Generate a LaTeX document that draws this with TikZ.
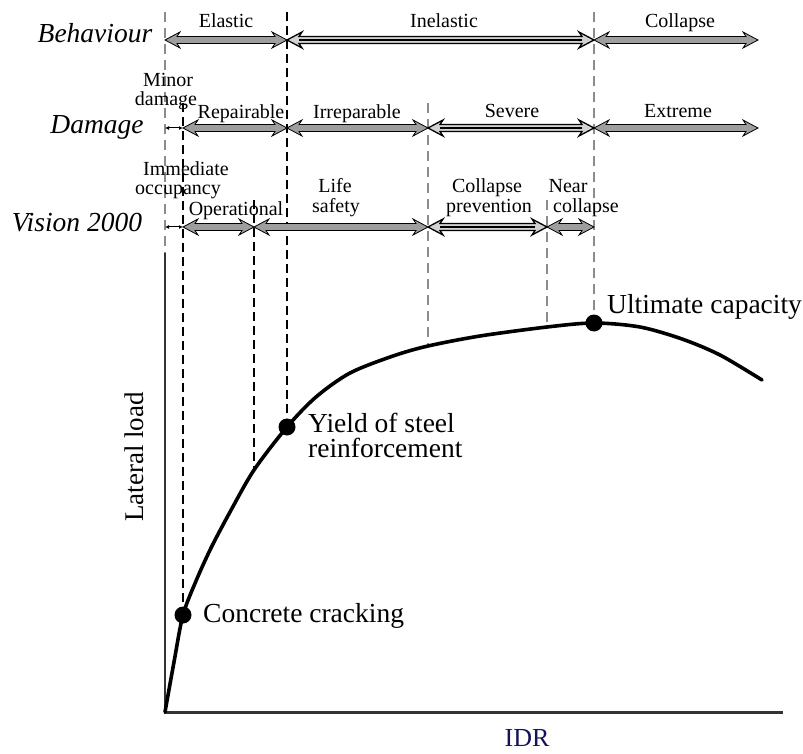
\documentclass[tikz,border=0pt]{standalone}
\usepackage{fontspec}
\setmainfont{Liberation Serif}
\usetikzlibrary{arrows.meta}

\definecolor{shaftgray}{gray}{0.62}
\definecolor{guidegray}{gray}{0.55}
\definecolor{axisgray}{gray}{0.2}
\definecolor{idrblue}{RGB}{20,20,90}

% Double-headed block arrow spanning x1..x2 at height y
\newcommand\spanarrow[4]{%
  \filldraw[#1] (#2,#4) -- (#2+15,#4-8) -- (#2+12,#4-3.5) -- (#3-12,#4-3.5)
    -- (#3-15,#4-8) -- (#3,#4) -- (#3-15,#4+8) -- (#3-12,#4+3.5)
    -- (#2+12,#4+3.5) -- (#2+15,#4+8) -- cycle;}
% Darker variant with a ruled shaft
\newcommand\spanarrowdark[3]{%
  \spanarrow{darkarrow}{#1}{#2}{#3}%
  \draw[line width=1.3pt] (#1+12,#3) -- (#2-12,#3);}

\tikzset{
  lightarrow/.style={fill=shaftgray, draw=black, line width=0.8pt, line join=miter},
  darkarrow/.style={fill=gray!35, draw=black, line width=1.3pt, line join=miter},
  tinyarrow/.style={{Latex[length=4pt,width=4pt]}-{Latex[length=4pt,width=4pt]}, line width=1pt},
  blackguide/.style={draw=black, line width=1.3pt, dash pattern=on 9pt off 5pt},
  grayguide/.style={draw=guidegray, line width=1.5pt, dash pattern=on 10pt off 6pt},
  rowlabel/.style={font=\fontsize{27.5}{30}\selectfont\itshape, anchor=base, inner sep=0pt},
  small/.style={font=\fontsize{20}{20}\selectfont, anchor=base, inner sep=0pt},
  big/.style={font=\fontsize{27.5}{30}\selectfont, anchor=base west, inner sep=0pt},
  dot/.style={circle, fill=black, minimum size=17pt, inner sep=0pt},
  axis/.style={draw=axisgray, line width=2.5pt},
  curve/.style={draw=black, line width=3.6pt, line join=round, line cap=round}
}

\begin{document}
\begin{tikzpicture}[x=1pt, y=-1pt]
\useasboundingbox (0,0) rectangle (803,754);

% guide lines
\draw[grayguide] (165,12) -- (165,253);
\draw[blackguide] (183,103) -- (183,604);
\draw[blackguide] (287,12) -- (287,418);
\draw[blackguide] (254,200) -- (254,470);
\draw[grayguide] (428,103) -- (428,346);
\draw[grayguide] (594,12) -- (594,315);
\draw[grayguide] (547,200) -- (547,327);

% axes
\coordinate (top) at (165,253);
\coordinate (origin) at (165,712.5);
\coordinate (xend) at (783,712.5);
\draw[axis] (top) -- (origin) -- (xend);

% capacity curve
\draw[curve] plot[smooth, tension=0.5] coordinates {
  (165,712) (174,662) (183,615) (196,581) (211,548) (230,512) (254,470)
  (287,427) (316,397) (350,373) (393,356) (428,346) (480,336) (547,327)
  (594,323) (640,327) (682,339) (720,355) (762,380)};

\node[dot] (crack) at (183,615) {};
\node[dot] (yield) at (287,427) {};
\node[dot] (ult) at (594,323) {};

\node[big] (lcrack) at (203,622) {Concrete cracking};
\node[big] (lyield1) at (308,432) {Yield of steel};
\node[big] (lyield2) at (308,457) {reinforcement};
\node[big] (lult) at (607,313) {Ultimate capacity};

\node[font=\fontsize{27}{30}\selectfont, rotate=90, anchor=base, inner sep=0pt] (ylab) at (143,457) {Lateral load};
\node[font=\fontsize{26}{30}\selectfont, text=idrblue, anchor=base, inner sep=0pt] (xlab) at (527,746) {IDR};

% row labels
\node[rowlabel] (rbeh) at (95,43) {Behaviour};
\node[rowlabel] (rdam) at (97,134) {Damage};
\node[rowlabel] (rvis) at (77,232) {Vision 2000};

% Behaviour row
\spanarrow{lightarrow}{165}{287}{40}
\spanarrowdark{287}{594}{40}
\spanarrow{lightarrow}{594}{758}{40}
\node[small] (elastic) at (226,28) {Elastic};
\node[small] (inelastic) at (444,28) {Inelastic};
\node[small] (collapse) at (680,28) {Collapse};

% Damage row
\coordinate (d0) at (165,128);
\coordinate (d1) at (183,128);
\draw[tinyarrow] (d0) -- (d1);
\spanarrow{lightarrow}{183}{287}{128}
\spanarrow{lightarrow}{287}{428}{128}
\spanarrowdark{428}{594}{128}
\spanarrow{lightarrow}{594}{758}{128}
\node[small] (minor1) at (168,87) {Minor};
\node[small] (minor2) at (166,106) {damage};
\node[small] (repair) at (241,119) {Repairable};
\node[small] (irrep) at (357,119) {Irreparable};
\node[small] (severe) at (512,118) {Severe};
\node[small] (extreme) at (678,118) {Extreme};

% Vision 2000 row
\coordinate (v0) at (165,227);
\coordinate (v1) at (183,227);
\draw[tinyarrow] (v0) -- (v1);
\spanarrow{lightarrow}{183}{254}{227}
\spanarrow{lightarrow}{254}{428}{227}
\spanarrowdark{428}{547}{227}
\spanarrow{lightarrow}{547}{594}{227}
\node[small] (imm1) at (186,176) {Immediate};
\node[small] (imm2) at (178,195) {occupancy};
\node[small] (oper) at (236,215) {Operational};
\node[small] (life1) at (335,193) {Life};
\node[small] (life2) at (336,213) {safety};
\node[small] (cp1) at (487,193) {Collapse};
\node[small] (cp2) at (489,213) {prevention};
\node[small] (nc1) at (568,193) {Near};
\node[small] (nc2) at (586,213) {collapse};
\end{tikzpicture}
\end{document}
